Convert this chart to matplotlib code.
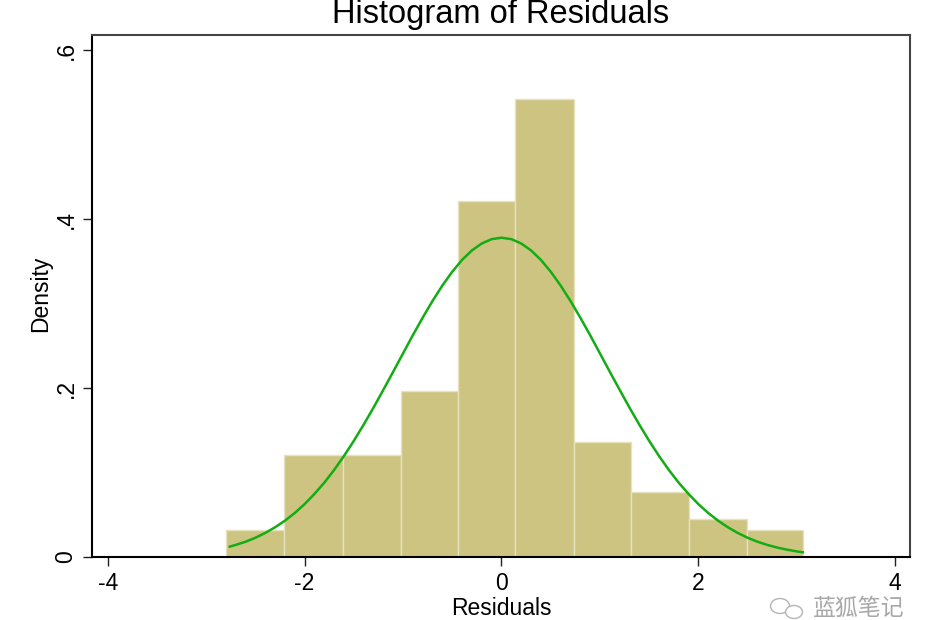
import matplotlib
matplotlib.use('Agg')
import matplotlib.pyplot as plt
from matplotlib.patches import Ellipse

plt.rcParams['font.family'] = ['Liberation Sans', 'Noto Sans CJK SC', 'DejaVu Sans']
plt.rcParams['axes.unicode_minus'] = False

bin_edges = [-2.795, -2.205, -1.615, -1.025, -0.445, 0.142, 0.732, 1.311, 1.90, 2.49, 3.065]
density = [0.032, 0.121, 0.121, 0.196, 0.421, 0.542, 0.136, 0.077, 0.045, 0.032]

# green curve
curve_x = [-2.76, -2.7, -2.6, -2.5, -2.4, -2.3, -2.2, -2.1, -2.0, -1.9, -1.8, -1.7, -1.6, -1.5, -1.4,
           -1.3, -1.2, -1.1, -1.0, -0.9, -0.8, -0.7, -0.6, -0.5, -0.4, -0.3, -0.2, -0.1, 0.0,
           0.1, 0.2, 0.3, 0.4, 0.5, 0.6, 0.7, 0.8, 0.9, 1.0, 1.1, 1.2, 1.3, 1.4, 1.5,
           1.6, 1.7, 1.8, 1.9, 2.0, 2.1, 2.2, 2.3, 2.4, 2.5, 2.6, 2.7, 2.8, 2.9, 3.0, 3.06]
curve_y = [0.0123, 0.0143, 0.0181, 0.0228, 0.0285, 0.0352, 0.0430, 0.0521, 0.0626, 0.0747, 0.0880, 0.1031, 0.1196, 0.1376, 0.1567,
           0.1769, 0.1980, 0.2194, 0.2411, 0.2627, 0.2835, 0.3033, 0.3215, 0.3378, 0.3518, 0.3630, 0.3712, 0.3763, 0.3780,
           0.3763, 0.3712, 0.3630, 0.3518, 0.3378, 0.3215, 0.3033, 0.2835, 0.2627, 0.2411, 0.2194, 0.1980, 0.1769, 0.1567, 0.1376,
           0.1196, 0.1031, 0.0880, 0.0747, 0.0626, 0.0521, 0.0430, 0.0352, 0.0285, 0.0228, 0.0181, 0.0143, 0.0112, 0.0087, 0.0066, 0.0056]

xticks = [-4, -2, 0, 2, 4]
yticks = [0, 0.2, 0.4, 0.6]
ylabels = ['0', '.2', '.4', '.6']

fig = plt.figure(figsize=(9.35, 6.2), dpi=100)
ax = fig.add_axes([92 / 935, 1 - 557 / 620, 818 / 935, 522 / 620])

widths = [b - a for a, b in zip(bin_edges[:-1], bin_edges[1:])]
ax.bar(bin_edges[:-1], density, width=widths, align='edge', color='#cdc482',
       edgecolor='#e6e2bf', linewidth=1)
ax.plot(curve_x, curve_y, color='#12ad12', linewidth=1.8)

ax.set_xlim(-4.16, 4.15)
ax.set_ylim(0, 0.618)
ax.set_xticks(xticks)
ax.set_yticks(yticks)
ax.set_yticklabels(ylabels, rotation=90, va='center')
ax.tick_params(axis='both', labelsize=16.5, length=6.5, width=1, color='#222222', pad=4)

for side in ['left', 'bottom']:
    ax.spines[side].set_color('black')
    ax.spines[side].set_linewidth(1.5)
for side in ['top', 'right']:
    ax.spines[side].set_color('#444444')
    ax.spines[side].set_linewidth(1.5)

ax.set_xlabel('Residuals', fontsize=16.5, labelpad=2)
ax.set_ylabel('Density', fontsize=16.5, labelpad=2, y=0.505)
fig.text(501 / 935, 1 - 15 / 620, 'Histogram of Residuals', fontsize=23.5, ha='center', va='center')

# watermark
fig.text(859 / 935, 1 - 608 / 620, '蓝狐笔记', fontsize=16.5, color='#a8a8a8', ha='center', va='center')
bg = fig.add_axes([0, 0, 1, 1], facecolor='none')
bg.set_xlim(0, 935)
bg.set_ylim(620, 0)
bg.axis('off')
bg.add_patch(Ellipse((780, 606), 19, 15, fill=False, edgecolor='#b5b5b5', linewidth=1))
bg.add_patch(Ellipse((794, 612), 17, 13, facecolor='white', edgecolor='#b5b5b5', linewidth=1))

fig.savefig('out.png', dpi=100)
